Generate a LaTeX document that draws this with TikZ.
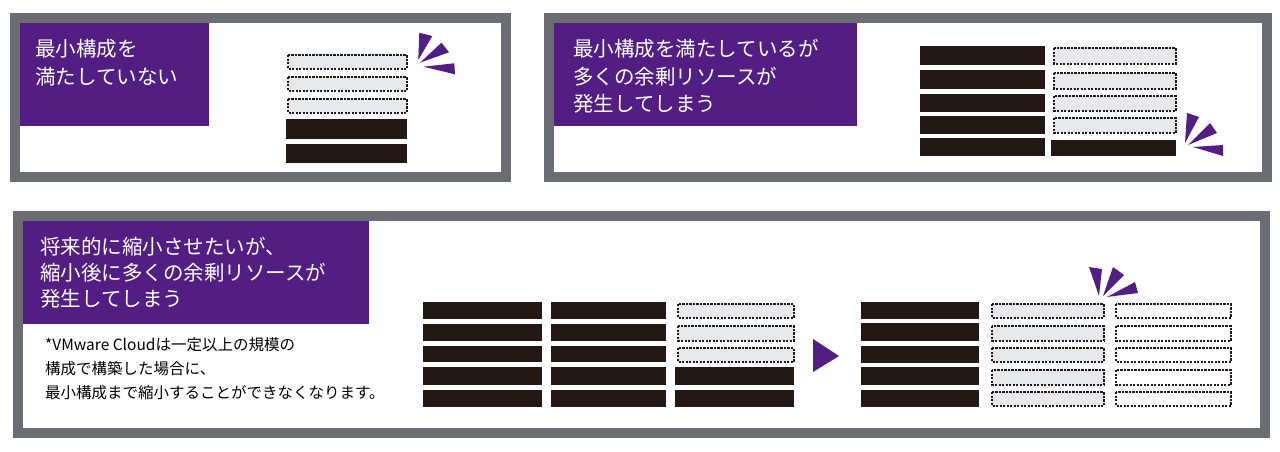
\documentclass[tikz,border=0pt]{standalone}
\usepackage{fontspec}
\newfontfamily\jp{Noto Sans CJK JP}
\definecolor{framegray}{HTML}{6B6D72}
\definecolor{vpurple}{HTML}{521E84}
\definecolor{blkc}{HTML}{231815}
\definecolor{lightc}{HTML}{E7E8EC}
\newcommand\myblk[4]{\fill[blkc] (#1,#2) rectangle (#3,#4);}
\newcommand\mydot[4]{\path[dotbox,fill=lightc] (#1+1.2,#2+1.2) rectangle (#3-1.2,#4-1.2);}
\newcommand\mywht[4]{\path[dotbox,fill=white] (#1+1.2,#2+1.2) rectangle (#3-1.2,#4-1.2);}
\tikzset{
  frame/.style={draw=framegray,line width=10pt},
  titlebox/.style={fill=vpurple},
  titletxt/.style={anchor=west,inner sep=0pt,text=white,font=\jp\fontsize{20.5}{24}\selectfont},
  notetxt/.style={anchor=west,inner sep=0pt,text=black,font=\jp\fontsize{15.5}{18}\selectfont},
  dotbox/.style={draw=blkc,line width=2.4pt,dash pattern=on 2.2pt off 1.3pt},
  burst/.style={fill=vpurple},
}
\begin{document}
\begin{tikzpicture}[x=1pt,y=-1pt]
\useasboundingbox (0,0) rectangle (1280,452);
% ---------- panel 1 ----------
\fill[titlebox] (20,23) rectangle (209,126);
\draw[frame] (15,18) rectangle (506,177);
\node[titletxt] (t1a) at (35,49) {最小構成を};
\node[titletxt] (t1b) at (35,77) {満たしていない};
\mydot{287}{54}{408}{70}
\mydot{287}{76}{408}{92}
\mydot{287}{98}{408}{114}
\myblk{286}{119}{407}{139}
\myblk{286}{144}{407}{163}
\fill[burst] (419.3,32.7) -- (432.3,36) -- (418.3,60) -- cycle;
\fill[burst] (441.5,42.7) -- (449,52.3) -- (420,62.7) -- cycle;
\fill[burst] (454.3,63.3) -- (455,74.3) -- (423.3,66.7) -- cycle;
% ---------- panel 2 ----------
\fill[titlebox] (554,23) rectangle (857,126);
\draw[frame] (549,18) rectangle (1267,177);
\node[titletxt] (t2a) at (573,49) {最小構成を満たしているが};
\node[titletxt] (t2b) at (573,77) {多くの余剰リソースが};
\node[titletxt] (t2c) at (573,104) {発生してしまう};
\myblk{920}{46}{1045}{65}
\myblk{920}{70}{1045}{89}
\myblk{920}{94}{1045}{112}
\myblk{920}{116}{1045}{134}
\myblk{920}{138}{1045}{156}
\mydot{1053}{47}{1177}{65}
\mydot{1053}{72}{1177}{90}
\mydot{1053}{95}{1177}{112}
\mydot{1053}{117}{1177}{134}
\myblk{1051}{140}{1176}{156}
\fill[burst] (1187,113) -- (1199,117) -- (1185,143) -- cycle;
\fill[burst] (1210,123) -- (1217,133) -- (1188,145) -- cycle;
\fill[burst] (1223,145) -- (1223,156) -- (1193,147) -- cycle;
% ---------- panel 3 ----------
\fill[titlebox] (23,221) rectangle (369,324);
\draw[frame] (18,216) rectangle (1265,433);
\node[titletxt] (t3a) at (40,247) {将来的に縮小させたいが、};
\node[titletxt] (t3b) at (40,273) {縮小後に多くの余剰リソースが};
\node[titletxt] (t3c) at (40,299) {発生してしまう};
\node[notetxt] (n1) at (45,345) {*VMware Cloudは一定以上の規模の};
\node[notetxt] (n2) at (45,369) {構成で構築した場合に、};
\node[notetxt] (n3) at (45,393) {最小構成まで縮小することができなくなります。};
% group A
\foreach \a/\b in {302/319,324/341,346/362,367/385,390/407}{
  \myblk{423}{\a}{542}{\b}
  \myblk{551}{\a}{666}{\b}
}
\mydot{677}{303}{795}{319}
\mydot{677}{325}{795}{342}
\mydot{677}{347}{795}{363}
\myblk{675}{367}{794}{385}
\myblk{675}{390}{794}{407}
% arrow
\fill[vpurple] (813,339) -- (839,356) -- (813,372) -- cycle;
% group B
\foreach \a/\b in {302/319,323/341,346/363,367/385,390/407}{
  \myblk{861}{\a}{979}{\b}
}
\foreach \a/\b in {303/319,325/342,347/363,369/386,391/407}{
  \mydot{991}{\a}{1105}{\b}
  \mywht{1115}{\a}{1232}{\b}
}
\fill[burst] (1089,267) -- (1102,269) -- (1099,296) -- cycle;
\fill[burst] (1113,267) -- (1124,275) -- (1103,296) -- cycle;
\fill[burst] (1135,282) -- (1138,293) -- (1107,297) -- cycle;
\end{tikzpicture}
\end{document}
